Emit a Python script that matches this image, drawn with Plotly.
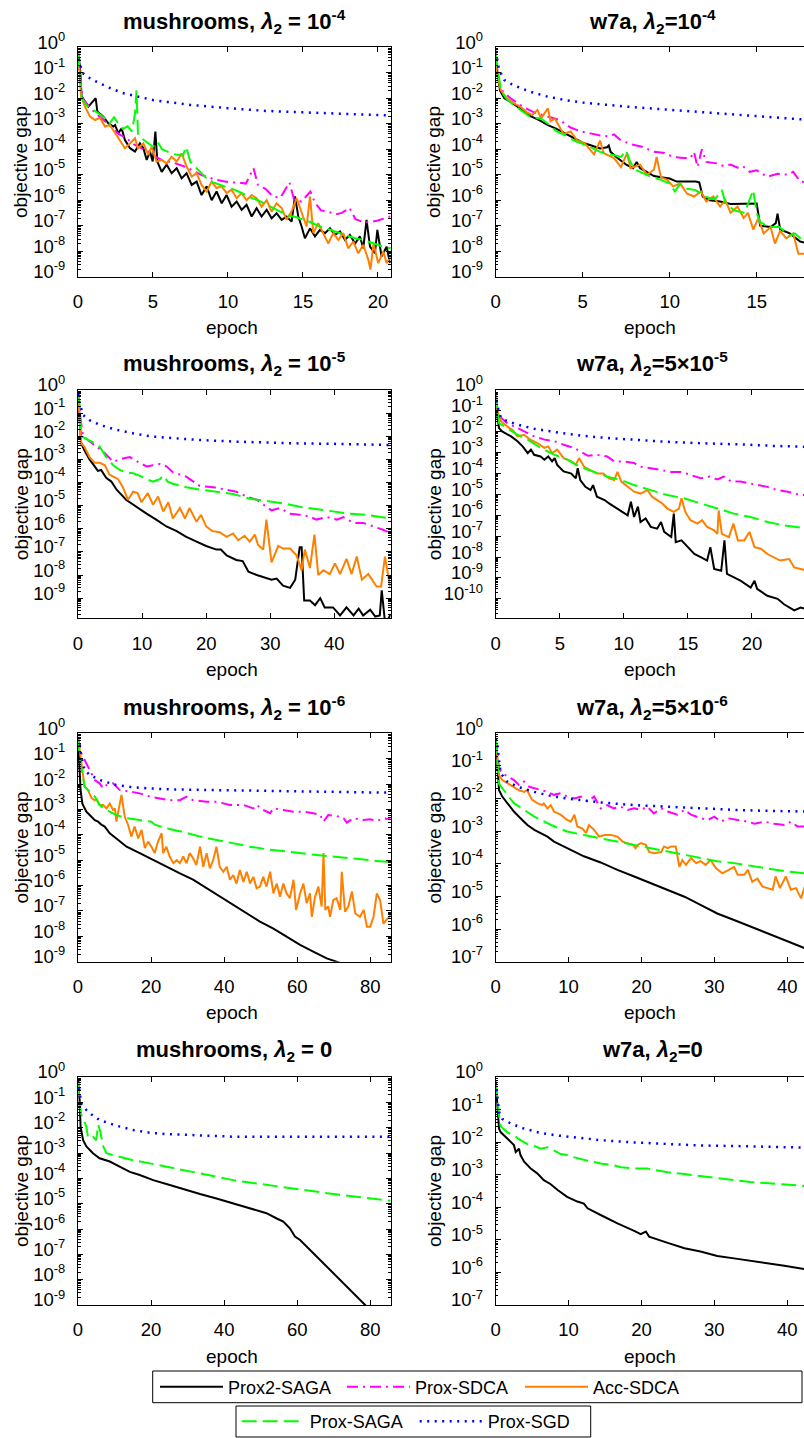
import math
import plotly.graph_objects as go

# ---------------------------------------------------------------- data ----
METHODS = ["Prox2-SAGA", "Prox-SDCA", "Acc-SDCA", "Prox-SAGA", "Prox-SGD"]

PANEL_TITLES = [
    "<b>mushrooms, <i>λ</i><sub>2</sub> = 10<sup>-4</sup></b>",
    "<b>w7a, <i>λ</i><sub>2</sub>=10<sup>-4</sup></b>",
    "<b>mushrooms, <i>λ</i><sub>2</sub> = 10<sup>-5</sup></b>",
    "<b>w7a, <i>λ</i><sub>2</sub>=5×10<sup>-5</sup></b>",
    "<b>mushrooms, <i>λ</i><sub>2</sub> = 10<sup>-6</sup></b>",
    "<b>w7a, <i>λ</i><sub>2</sub>=5×10<sup>-6</sup></b>",
    "<b>mushrooms, <i>λ</i><sub>2</sub> = 0</b>",
    "<b>w7a, <i>λ</i><sub>2</sub>=0</b>",
]
X_TITLE = "epoch"
Y_TITLE = "objective gap"

Y_TICK_VALS = [1e0, 1e-1, 1e-2, 1e-3, 1e-4, 1e-5, 1e-6, 1e-7, 1e-8, 1e-9, 1e-10]
Y_TICK_TEXT = ["10<sup>0</sup>", "10<sup>-1</sup>", "10<sup>-2</sup>", "10<sup>-3</sup>",
               "10<sup>-4</sup>", "10<sup>-5</sup>", "10<sup>-6</sup>", "10<sup>-7</sup>",
               "10<sup>-8</sup>", "10<sup>-9</sup>", "10<sup>-10</sup>"]
N_Y_TICKS = [10, 10, 10, 11, 10, 8, 10, 8]
Y_MIN = [1e-9, 1e-9, 1.35e-10, 1.17e-11, 1e-9, 1e-7, 1e-9, 1e-7]
X_MAX = [20.85, 17.72, 48.8, 24.06, 85.6, 42.3, 85.6, 42.3]
X_TICK_STEP = [5, 5, 10, 5, 20, 10, 20, 10]

# ---- panel 1 : mushrooms, lambda2 = 1e-4
P1_X_PROX2SAGA = [0, 0.13, 0.24, 0.47, 0.69, 0.98, 1.18, 1.29, 1.69, 2.02, 2.36, 2.47, 2.69, 2.91, 3.13, 3.47, 3.8, 4.13, 4.36, 4.58, 4.8, 4.98, 5.16, 5.29, 5.58, 5.91, 6.24, 6.58, 6.91, 7.24, 7.58, 7.91, 8.24, 8.58, 8.91, 9.24, 9.58, 9.91, 10.24, 10.58, 10.91, 11.24, 11.58, 11.91, 12.24, 12.58, 12.91, 13.24, 13.58, 13.91, 14.24, 14.47, 14.69, 14.91, 15.13, 15.47, 15.8, 16.13, 16.47, 16.8, 17.13, 17.47, 17.8, 18.13, 18.47, 18.8, 19.02, 19.24, 19.47, 19.8, 19.96, 20.24, 20.58, 20.8]
P1_Y_PROX2SAGA = [6.3e-1, 1.7e-1, 1.2e-2, 7.4e-3, 4.7e-3, 7.4e-3, 1.0e-2, 3.0e-3, 1.9e-3, 1.05e-3, 7.8e-4, 8.9e-4, 4.3e-4, 6.6e-4, 2.3e-4, 1.1e-4, 8.1e-5, 1.7e-4, 1.1e-4, 3.8e-5, 8.1e-5, 3.3e-5, 4.9e-4, 3.3e-5, 1.3e-5, 2.5e-5, 1.15e-5, 1.8e-5, 7.2e-6, 1.15e-5, 4.0e-6, 5.4e-6, 1.6e-6, 3.5e-6, 1.0e-6, 2.2e-6, 7.6e-7, 1.6e-6, 5.6e-7, 8.9e-7, 4.2e-7, 6.6e-7, 2.3e-7, 4.9e-7, 2.3e-7, 4.2e-7, 1.95e-7, 3.1e-7, 1.7e-7, 2.3e-7, 1.45e-7, 1.4e-6, 2.3e-7, 9.3e-8, 3.2e-8, 7.9e-8, 3.8e-8, 6.9e-8, 5.1e-8, 7.9e-8, 4.4e-8, 6.0e-8, 2.8e-8, 4.4e-8, 2.0e-8, 3.8e-8, 1.3e-8, 1.7e-7, 1.5e-8, 8.3e-9, 6.9e-8, 6.2e-9, 1.5e-8, 3.4e-9]
P1_X_PROXSDCA = [0, 0.1, 0.3, 0.7, 1.2, 1.7, 2.2, 2.7, 3.2, 3.7, 4.2, 4.7, 5.2, 5.7, 6.2, 6.7, 7.2, 7.7, 8.2, 8.7, 9.2, 9.7, 10.2, 10.7, 11.2, 11.7, 12.0, 12.5, 13.0, 13.5, 14.1, 14.4, 14.9, 15.5, 15.8, 16.2, 16.7, 17.2, 17.6, 18.1, 18.5, 19.0, 19.5, 20.0, 20.5, 20.9]
P1_Y_PROXSDCA = [6.3e-1, 1.0e-1, 1.0e-2, 5.0e-3, 2.5e-3, 1.4e-3, 7.9e-4, 4.0e-4, 2.8e-4, 1.6e-4, 1.1e-4, 7.9e-5, 5.0e-5, 3.5e-5, 3.2e-5, 2.5e-5, 2.0e-5, 1.4e-5, 1.0e-5, 7.9e-6, 6.3e-6, 5.6e-6, 5.0e-6, 5.0e-6, 4.5e-6, 1.8e-5, 4.0e-6, 2.8e-6, 1.4e-6, 1.26e-6, 5.0e-6, 1.1e-6, 8.9e-7, 2.2e-6, 7.9e-7, 4.0e-7, 3.5e-7, 2.8e-7, 3.2e-7, 5.0e-7, 1.8e-7, 1.4e-7, 1.4e-7, 1.6e-7, 2.0e-7, 2.4e-7]
P1_X_ACCSDCA = [0, 0.1, 0.2, 0.47, 0.8, 1.13, 1.47, 1.8, 2.13, 2.47, 2.8, 3.13, 3.47, 3.8, 4.0, 4.36, 4.69, 4.91, 5.24, 5.58, 5.91, 6.24, 6.58, 6.91, 7.24, 7.58, 7.91, 8.24, 8.58, 8.91, 9.24, 9.58, 9.91, 10.24, 10.58, 10.91, 11.24, 11.58, 11.91, 12.24, 12.58, 12.91, 13.24, 13.58, 13.91, 14.24, 14.58, 14.91, 15.24, 15.47, 15.69, 16.02, 16.36, 16.69, 17.02, 17.36, 17.69, 18.02, 18.36, 18.69, 19.02, 19.36, 19.5, 19.7, 20.02, 20.36, 20.58, 20.84]
P1_Y_ACCSDCA = [6.3e-1, 1.4e-1, 1.2e-2, 4.7e-3, 1.9e-3, 1.4e-3, 1.7e-3, 7.8e-4, 8.9e-4, 4.3e-4, 2.3e-4, 1.1e-4, 1.7e-4, 2.7e-4, 1.1e-4, 1.7e-4, 6.0e-5, 1.26e-4, 3.3e-5, 3.8e-5, 2.8e-5, 5.1e-5, 3.3e-5, 6.9e-5, 2.1e-5, 8.5e-6, 1.15e-5, 4.0e-6, 2.2e-6, 5.4e-6, 3.0e-6, 3.5e-6, 1.9e-6, 2.6e-6, 1.2e-6, 1.9e-6, 1.0e-6, 1.6e-6, 1.2e-6, 5.6e-7, 1.0e-6, 3.6e-7, 7.6e-7, 4.9e-7, 1.7e-7, 3.6e-7, 1.2e-6, 3.1e-7, 9.3e-8, 1.4e-6, 5.1e-8, 1.26e-7, 5.1e-8, 2.0e-8, 5.1e-8, 2.8e-8, 5.1e-8, 1.3e-8, 2.4e-8, 8.3e-9, 1.8e-8, 4.6e-9, 1.9e-9, 2.0e-8, 3.4e-9, 9.8e-9, 3.4e-9, 6.2e-9]
P1_X_PROXSAGA = [0, 0.1, 0.25, 0.6, 1.0, 1.4, 1.8, 2.1, 2.4, 2.7, 3.0, 3.3, 3.6, 3.8, 3.9, 4.0, 4.3, 4.6, 5.0, 5.3, 5.6, 6.0, 6.5, 7.0, 7.2, 7.5, 8.0, 8.5, 9.0, 9.5, 10.0, 10.5, 11.0, 11.5, 12.0, 12.5, 13.0, 13.5, 14.0, 14.5, 15.0, 15.5, 16.0, 16.5, 17.0, 17.5, 18.0, 18.5, 19.0, 19.5, 20.0, 20.5, 21.0]
P1_Y_PROXSAGA = [6.3e-1, 1.0e-1, 1.0e-2, 5.0e-3, 3.5e-3, 2.5e-3, 1.6e-3, 1.0e-3, 1.8e-3, 1.0e-3, 6.3e-4, 7.9e-4, 5.0e-4, 2.5e-3, 2.0e-2, 4.0e-4, 2.5e-4, 1.8e-4, 1.26e-4, 2.0e-4, 1.0e-4, 7.9e-5, 6.3e-5, 5.6e-5, 1.26e-4, 3.2e-5, 1.6e-5, 7.9e-6, 5.0e-6, 4.0e-6, 3.2e-6, 2.5e-6, 1.8e-6, 1.26e-6, 1.0e-6, 7.1e-7, 5.0e-7, 3.5e-7, 2.5e-7, 2.2e-7, 1.8e-7, 1.4e-7, 1.0e-7, 7.9e-8, 6.3e-8, 5.0e-8, 4.0e-8, 3.2e-8, 2.8e-8, 2.2e-8, 1.8e-8, 1.4e-8, 1.26e-8]
P1_X_PROXSGD = [0, 0.1, 0.3, 0.6, 1.0, 1.5, 2.0, 3.0, 4.0, 5.0, 6.0, 7.5, 10.0, 12.5, 15.0, 17.5, 20.0, 21.0]
P1_Y_PROXSGD = [7.1e-1, 2.5e-1, 1.0e-1, 7.1e-2, 5.2e-2, 3.8e-2, 2.7e-2, 1.6e-2, 1.2e-2, 8.5e-3, 7.1e-3, 5.5e-3, 4.1e-3, 3.2e-3, 2.8e-3, 2.5e-3, 2.1e-3, 2.1e-3]

# ---- panel 2 : w7a, lambda2 = 1e-4
P2_X_PROX2SAGA = [0, 0.1, 0.25, 0.5, 1.0, 1.5, 2.0, 2.5, 3.0, 3.5, 4.0, 4.5, 5.0, 5.5, 6.0, 6.4, 6.5, 6.6, 7.0, 7.5, 7.9, 8.1, 8.3, 8.6, 9.1, 9.5, 10.0, 10.4, 11.0, 11.5, 11.7, 11.9, 12.3, 12.9, 13.5, 14.2, 15.0, 15.2, 15.8, 16.1, 16.2, 16.35, 16.9, 17.5, 18.0]
P2_Y_PROX2SAGA = [6.3e-1, 1.0e-1, 2.0e-2, 1.0e-2, 6.3e-3, 3.5e-3, 2.0e-3, 1.4e-3, 8.9e-4, 6.3e-4, 4.2e-4, 2.8e-4, 1.8e-4, 1.4e-4, 1.07e-4, 1.2e-4, 1.4e-4, 7.9e-5, 4.5e-5, 2.5e-5, 1.8e-5, 3.2e-5, 1.8e-5, 1.4e-5, 8.9e-6, 7.9e-6, 7.1e-6, 5.4e-6, 5.4e-6, 5.4e-6, 5.0e-6, 1.4e-6, 1.0e-6, 8.9e-7, 7.1e-7, 7.2e-7, 7.4e-7, 1.0e-7, 8.9e-8, 1.26e-7, 3.0e-7, 7.1e-8, 5.0e-8, 2.4e-8, 2.0e-8]
P2_X_PROXSDCA = [0, 0.1, 0.3, 0.85, 1.6, 2.2, 2.9, 3.7, 4.3, 4.9, 5.45, 6.0, 6.5, 6.8, 7.2, 7.9, 8.4, 9.1, 9.7, 10.2, 10.8, 11.2, 11.4, 11.6, 11.85, 12.1, 12.7, 13.1, 13.5, 13.9, 14.2, 14.6, 15.0, 15.6, 16.2, 16.8, 17.1, 17.5, 18.0]
P2_Y_PROXSDCA = [6.3e-1, 1.0e-1, 2.2e-2, 1.0e-2, 4.5e-3, 2.8e-3, 2.0e-3, 1.4e-3, 7.1e-4, 5.0e-4, 4.2e-4, 3.5e-4, 3.2e-4, 3.8e-4, 2.2e-4, 1.5e-4, 1.26e-4, 7.9e-5, 7.1e-5, 5.0e-5, 4.5e-5, 4.5e-5, 7.9e-5, 2.0e-5, 1.0e-4, 3.2e-5, 2.8e-5, 2.2e-5, 2.5e-5, 1.9e-5, 2.2e-5, 1.3e-5, 1.5e-5, 8.3e-6, 1.1e-5, 1.0e-5, 1.3e-5, 5.4e-6, 5.0e-6]
P2_X_ACCSDCA = [0, 0.05, 0.3, 0.65, 1.05, 1.45, 1.8, 2.1, 2.4, 2.6, 3.0, 3.15, 3.4, 3.6, 3.9, 4.3, 4.7, 5.1, 5.65, 6.0, 6.2, 6.8, 7.2, 7.55, 7.75, 8.3, 8.7, 9.1, 9.25, 9.5, 9.85, 10.2, 10.6, 11.0, 11.4, 11.8, 12.1, 12.5, 12.9, 13.2, 13.5, 13.9, 14.25, 14.5, 14.8, 15.1, 15.4, 15.8, 16.05, 16.35, 16.7, 17.1, 17.4, 17.8, 18.0]
P2_Y_ACCSDCA = [6.3e-1, 1.0e-1, 2.0e-2, 1.0e-2, 6.3e-3, 4.5e-3, 2.8e-3, 2.2e-3, 3.5e-3, 1.6e-3, 4.0e-3, 1.26e-3, 1.6e-3, 8.9e-4, 4.0e-4, 5.0e-4, 2.2e-4, 1.8e-4, 6.3e-5, 2.2e-4, 7.1e-5, 4.5e-5, 2.0e-5, 7.1e-5, 1.8e-5, 2.5e-5, 1.0e-5, 1.6e-5, 5.0e-5, 7.9e-6, 6.3e-6, 3.5e-6, 4.5e-6, 1.8e-6, 1.4e-6, 2.2e-6, 8.9e-7, 1.4e-6, 5.6e-7, 1.0e-6, 3.2e-7, 5.6e-7, 2.0e-7, 3.2e-7, 7.1e-8, 2.0e-7, 5.0e-8, 8.9e-8, 2.0e-8, 6.3e-8, 3.2e-8, 5.0e-8, 7.9e-9, 7.9e-9, 1.0e-8]
P2_X_PROXSAGA = [0, 0.1, 0.3, 0.6, 1.0, 1.5, 2.0, 2.6, 3.0, 3.5, 4.0, 4.5, 5.0, 5.4, 6.0, 6.8, 7.2, 7.5, 7.7, 8.0, 8.5, 9.0, 9.5, 10.0, 10.3, 10.6, 11.0, 11.5, 12.0, 12.6, 13.0, 13.2, 13.7, 14.3, 14.8, 15.0, 15.2, 15.7, 16.3, 16.9, 17.2, 17.7, 18.0]
P2_Y_PROXSAGA = [6.3e-1, 1.6e-1, 2.0e-2, 1.0e-2, 5.6e-3, 3.2e-3, 1.8e-3, 1.6e-3, 1.0e-3, 5.0e-4, 3.5e-4, 2.2e-4, 1.6e-4, 1.26e-4, 7.9e-5, 5.6e-5, 5.0e-5, 8.9e-5, 3.5e-5, 1.6e-5, 1.1e-5, 7.9e-6, 6.3e-6, 4.5e-6, 2.2e-6, 4.5e-6, 2.8e-6, 2.5e-6, 1.4e-6, 1.1e-6, 2.5e-6, 7.9e-7, 4.0e-7, 3.2e-7, 2.5e-6, 3.2e-7, 1.4e-7, 8.9e-8, 8.9e-8, 4.0e-8, 5.0e-8, 2.4e-8, 2.0e-8]
P2_X_PROXSGD = [0, 0.2, 0.5, 1.0, 2.0, 3.0, 4.0, 5.0, 7.5, 10.0, 12.5, 15.0, 17.5, 18.0]
P2_Y_PROXSGD = [7.1e-1, 1.26e-1, 5.2e-2, 3.3e-2, 1.8e-2, 1.15e-2, 8.5e-3, 6.8e-3, 4.7e-3, 3.5e-3, 2.6e-3, 1.9e-3, 1.5e-3, 1.45e-3]

# ---- panel 3 : mushrooms, lambda2 = 1e-5
P3_X_PROX2SAGA = [0, 0.25, 0.5, 1.0, 1.8, 2.6, 3.1, 3.6, 4.4, 5.2, 6.0, 7.5, 9.1, 10.7, 12.2, 13.8, 15.4, 16.9, 18.5, 20.0, 21.6, 22.3, 23.2, 24.7, 25.7, 26.6, 27.9, 29.4, 30.2, 31.0, 32.0, 33.1, 33.9, 34.6, 34.9, 35.3, 36.2, 37.0, 37.8, 38.5, 39.8, 40.9, 41.9, 43.0, 43.8, 44.5, 45.6, 46.4, 47.1, 47.4, 47.9, 48.4, 48.8]
P3_Y_PROX2SAGA = [7.1e-1, 7.1e-2, 5.0e-3, 2.5e-3, 1.0e-3, 5.0e-4, 3.2e-4, 3.5e-4, 1.6e-4, 1.1e-4, 5.0e-5, 1.8e-5, 8.9e-6, 4.5e-6, 2.5e-6, 1.26e-6, 7.9e-7, 4.5e-7, 2.8e-7, 1.8e-7, 1.26e-7, 1.26e-7, 7.1e-8, 4.5e-8, 4.0e-8, 1.4e-8, 1.0e-8, 7.1e-9, 6.3e-9, 7.1e-9, 3.5e-9, 2.8e-9, 6.3e-9, 1.6e-7, 1.6e-7, 7.9e-10, 7.9e-10, 5.0e-10, 1.0e-9, 4.0e-10, 4.0e-10, 1.8e-10, 4.0e-10, 1.8e-10, 3.5e-10, 1.8e-10, 3.2e-10, 1.6e-10, 1.8e-10, 2.2e-9, 1.0e-10, 1.26e-10, 2.0e-10]
P3_X_PROXSDCA = [0, 0.25, 0.8, 1.55, 2.9, 3.9, 5.5, 7.0, 8.1, 9.6, 10.7, 11.7, 12.8, 13.8, 14.8, 16.9, 19.0, 21.1, 23.2, 24.7, 26.3, 27.9, 29.4, 30.2, 31.5, 33.1, 34.6, 36.0, 37.2, 38.8, 40.4, 41.4, 43.0, 44.5, 46.1, 47.7, 48.8]
P3_Y_PROXSDCA = [7.1e-1, 1.0e-1, 1.0e-2, 7.1e-3, 3.5e-3, 2.2e-3, 7.9e-4, 1.1e-3, 1.26e-3, 7.1e-4, 5.0e-4, 5.6e-4, 6.3e-4, 5.0e-4, 2.8e-4, 1.8e-4, 7.1e-5, 6.3e-5, 5.0e-5, 4.0e-5, 2.5e-5, 1.8e-5, 8.9e-6, 6.3e-6, 7.9e-6, 4.5e-6, 4.0e-6, 3.5e-6, 2.5e-6, 3.2e-6, 2.5e-6, 3.2e-6, 1.8e-6, 1.8e-6, 1.26e-6, 8.9e-7, 6.3e-7]
P3_X_ACCSDCA = [0, 0.15, 0.5, 1.0, 1.8, 2.6, 3.4, 4.2, 4.9, 5.5, 6.25, 7.0, 7.8, 8.6, 9.3, 9.9, 10.9, 11.7, 12.5, 13.3, 14.1, 14.8, 15.9, 16.7, 17.4, 18.5, 19.2, 20.0, 21.0, 22.1, 23.2, 24.2, 25.0, 26.0, 26.8, 27.6, 28.1, 28.9, 29.4, 30.2, 31.25, 32.0, 33.1, 34.1, 34.9, 35.4, 36.2, 36.9, 37.5, 38.3, 39.3, 40.1, 40.9, 41.9, 42.7, 43.5, 44.3, 45.3, 46.6, 47.3, 47.9, 48.7]
P3_Y_ACCSDCA = [7.1e-1, 1.26e-1, 5.0e-3, 3.5e-3, 1.26e-3, 7.1e-4, 7.1e-4, 5.6e-4, 2.2e-4, 1.8e-4, 1.4e-4, 6.3e-5, 1.8e-5, 4.0e-5, 3.5e-5, 1.4e-5, 3.5e-5, 1.1e-5, 2.5e-5, 5.6e-6, 1.4e-5, 2.8e-6, 7.9e-6, 2.8e-6, 7.9e-6, 2.0e-6, 4.0e-6, 1.26e-6, 7.9e-7, 7.1e-7, 4.5e-7, 6.3e-7, 3.2e-7, 5.0e-7, 2.8e-7, 5.6e-7, 2.0e-7, 1.26e-7, 2.5e-6, 3.5e-8, 1.8e-7, 1.4e-7, 1.4e-7, 7.1e-8, 1.6e-8, 1.26e-7, 2.0e-8, 5.6e-7, 1.0e-8, 1.6e-8, 1.1e-8, 3.2e-8, 1.1e-8, 5.0e-8, 1.1e-8, 6.3e-8, 6.3e-9, 1.1e-8, 3.2e-9, 3.2e-9, 6.3e-8, 3.2e-9]
P3_X_PROXSAGA = [0, 0.25, 0.5, 1.3, 2.3, 3.4, 4.4, 5.5, 6.5, 7.5, 8.6, 9.6, 10.7, 11.7, 12.8, 13.3, 14.0, 14.8, 16.9, 19.0, 21.6, 24.2, 26.8, 29.4, 32.0, 34.6, 37.2, 39.8, 42.4, 45.0, 48.8]
P3_Y_PROXSAGA = [7.1e-1, 2.5e-1, 1.0e-2, 7.9e-3, 5.6e-3, 3.5e-3, 1.26e-3, 5.6e-4, 3.5e-4, 2.8e-4, 2.5e-4, 2.0e-4, 1.4e-4, 1.1e-4, 1.4e-4, 2.0e-4, 1.1e-4, 8.9e-5, 6.3e-5, 5.0e-5, 4.0e-5, 3.2e-5, 2.0e-5, 1.6e-5, 1.26e-5, 8.9e-6, 7.1e-6, 5.6e-6, 4.5e-6, 4.0e-6, 2.8e-6]
P3_X_PROXSGD = [0, 0.26, 0.8, 1.8, 3.4, 6.0, 8.6, 11.2, 13.8, 19.0, 24.2, 29.4, 34.6, 39.8, 48.8]
P3_Y_PROXSGD = [7.1e-1, 2.6e-1, 8.3e-2, 5.0e-2, 3.1e-2, 1.9e-2, 1.35e-2, 1.0e-2, 8.7e-3, 6.9e-3, 5.9e-3, 5.2e-3, 4.9e-3, 4.7e-3, 4.2e-3]

# ---- panel 4 : w7a, lambda2 = 5e-5
P4_X_PROX2SAGA = [0, 0.13, 0.26, 0.5, 1.2, 1.7, 2.1, 2.5, 2.75, 3.0, 3.5, 3.8, 4.1, 4.4, 4.6, 4.8, 5.3, 5.9, 6.25, 6.4, 6.6, 7.0, 7.4, 7.6, 7.9, 8.5, 8.85, 9.25, 9.8, 10.3, 10.55, 10.8, 11.1, 11.3, 11.7, 12.1, 12.6, 12.9, 13.15, 13.7, 13.9, 14.05, 14.5, 15.0, 15.5, 16.0, 16.5, 16.75, 17.05, 17.6, 17.85, 18.05, 18.6, 19.1, 19.9, 20.2, 20.4, 21.2, 22.0, 22.5, 23.3, 23.8, 24.3]
P4_Y_PROX2SAGA = [7.1e-1, 5.6e-2, 1.5e-2, 1.05e-2, 6.0e-3, 3.5e-3, 2.0e-3, 9.5e-4, 1.4e-3, 7.9e-4, 6.6e-4, 4.6e-4, 6.6e-4, 3.8e-4, 5.5e-4, 2.6e-4, 1.26e-4, 1.0e-4, 5.9e-5, 1.8e-4, 4.9e-5, 2.3e-5, 1.6e-5, 2.8e-5, 7.8e-6, 5.4e-6, 3.7e-6, 2.6e-6, 1.7e-6, 1.0e-6, 4.5e-6, 8.3e-7, 2.6e-6, 4.8e-7, 7.1e-7, 2.8e-7, 2.3e-7, 4.8e-7, 1.6e-7, 9.1e-8, 1.2e-6, 5.2e-8, 6.3e-8, 3.0e-8, 1.4e-8, 1.0e-8, 6.8e-9, 3.0e-8, 2.7e-9, 2.2e-9, 6.3e-8, 1.55e-9, 1.07e-9, 7.4e-10, 3.5e-10, 7.4e-10, 3.0e-10, 1.4e-10, 1.0e-10, 5.5e-11, 2.8e-11, 3.8e-11, 3.2e-11]
P4_X_PROXSDCA = [0, 0.13, 0.4, 0.9, 1.7, 2.5, 3.0, 3.8, 4.6, 5.3, 6.1, 6.6, 7.2, 7.9, 8.7, 9.25, 10.0, 10.8, 11.3, 12.1, 12.9, 13.7, 14.5, 15.2, 16.0, 16.7, 17.3, 17.8, 18.4, 19.1, 19.7, 20.4, 21.2, 22.0, 22.8, 23.3, 23.8, 24.3]
P4_Y_PROXSDCA = [7.1e-1, 1.2e-1, 4.7e-2, 2.6e-2, 1.5e-2, 8.7e-3, 6.0e-3, 4.2e-3, 3.5e-3, 2.4e-3, 1.7e-3, 1.15e-3, 7.1e-4, 7.9e-4, 6.6e-4, 3.8e-4, 3.8e-4, 3.2e-4, 2.1e-4, 1.8e-4, 1.5e-4, 1.2e-4, 1.2e-4, 8.5e-5, 5.9e-5, 7.1e-5, 5.2e-5, 7.1e-5, 4.1e-5, 4.1e-5, 3.4e-5, 2.8e-5, 2.3e-5, 1.6e-5, 1.35e-5, 1.1e-5, 9.3e-6, 9.3e-6]
P4_X_ACCSDCA = [0, 0.13, 0.4, 0.9, 1.4, 1.7, 2.2, 2.7, 3.25, 3.8, 4.1, 4.4, 4.8, 5.3, 5.9, 6.25, 6.5, 6.9, 7.4, 7.9, 8.4, 8.85, 9.25, 9.5, 9.8, 10.3, 10.8, 11.3, 11.85, 12.2, 12.6, 13.0, 13.4, 13.9, 14.3, 14.5, 14.8, 15.2, 15.75, 16.1, 16.5, 17.05, 17.3, 17.4, 17.65, 18.2, 18.55, 18.9, 19.4, 19.8, 20.2, 20.7, 21.2, 21.7, 22.2, 22.9, 23.3, 23.8, 24.3]
P4_Y_ACCSDCA = [7.1e-1, 1.0e-1, 3.2e-2, 1.8e-2, 1.05e-2, 6.0e-3, 7.2e-3, 4.2e-3, 2.9e-3, 1.7e-3, 2.0e-3, 9.5e-4, 1.4e-3, 5.5e-4, 3.8e-4, 2.6e-4, 5.5e-4, 2.1e-4, 1.5e-4, 1.0e-4, 1.0e-4, 5.9e-5, 4.9e-5, 1.2e-4, 4.1e-5, 2.3e-5, 1.35e-5, 1.1e-5, 1.6e-5, 7.8e-6, 5.4e-6, 3.7e-6, 2.1e-6, 1.45e-6, 2.1e-6, 6.5e-6, 1.45e-6, 5.8e-7, 4.0e-7, 5.8e-7, 2.8e-7, 1.9e-7, 1.3e-7, 1.7e-6, 1.3e-7, 9.1e-8, 4.0e-7, 6.3e-8, 6.3e-8, 1.6e-7, 3.0e-8, 2.5e-8, 1.4e-8, 1.0e-8, 6.8e-9, 8.1e-9, 3.2e-9, 2.7e-9, 2.2e-9]
P4_X_PROXSAGA = [0, 0.13, 0.26, 0.9, 1.7, 2.5, 3.5, 4.6, 5.6, 6.6, 7.7, 8.7, 9.8, 10.8, 12.1, 13.4, 14.7, 16.0, 17.3, 18.6, 19.9, 21.2, 22.5, 24.3]
P4_Y_PROXSAGA = [7.1e-1, 1.0e-1, 2.6e-2, 1.5e-2, 7.2e-3, 4.2e-3, 1.7e-3, 7.9e-4, 4.6e-4, 2.1e-4, 1.2e-4, 7.1e-5, 4.9e-5, 2.8e-5, 1.6e-5, 9.3e-6, 6.5e-6, 3.7e-6, 2.1e-6, 1.2e-6, 8.3e-7, 4.8e-7, 3.3e-7, 2.3e-7]
P4_X_PROXSGD = [0, 0.13, 0.4, 0.9, 1.95, 3.0, 5.1, 7.2, 9.2, 11.3, 13.4, 15.5, 17.6, 19.7, 21.7, 24.3]
P4_Y_PROXSGD = [7.1e-1, 1.7e-1, 4.7e-2, 3.2e-2, 2.0e-2, 1.4e-2, 8.7e-3, 6.0e-3, 4.8e-3, 3.9e-3, 3.3e-3, 2.9e-3, 2.7e-3, 2.4e-3, 2.1e-3, 1.9e-3]

# ---- panel 5 : mushrooms, lambda2 = 1e-6
P5_X_PROX2SAGA = [0, 0.45, 0.7, 1.2, 2.3, 3.2, 4.6, 5.5, 6.4, 7.3, 8.7, 10.5, 13.3, 16.9, 20.6, 24.2, 27.9, 31.5, 35.2, 38.8, 42.5, 46.2, 49.8, 53.5, 57.1, 60.8, 64.4, 68.1, 71.8, 75.0]
P5_Y_PROX2SAGA = [7.1e-1, 4.9e-2, 5.9e-3, 1.7e-3, 8.1e-4, 6.0e-4, 3.8e-4, 3.3e-4, 2.5e-4, 2.1e-4, 1.15e-4, 7.2e-5, 3.4e-5, 1.9e-5, 1.0e-5, 5.5e-6, 3.0e-6, 1.7e-6, 7.8e-7, 3.6e-7, 1.7e-7, 7.9e-8, 3.8e-8, 2.0e-8, 9.5e-9, 4.6e-9, 2.5e-9, 1.35e-9, 8.9e-10, 5.0e-10]
P5_X_PROXSDCA = [0, 0.45, 0.9, 1.8, 3.2, 4.6, 5.9, 6.9, 7.8, 9.6, 11.4, 14.2, 16.9, 19.7, 22.4, 25.1, 27.9, 29.7, 31.5, 35.2, 38.0, 41.6, 45.3, 48.0, 48.9, 50.7, 52.6, 53.5, 56.2, 59.0, 61.7, 64.4, 66.3, 67.2, 68.5, 70.8, 72.7, 73.6, 75.4, 78.2, 80.0, 81.8, 83.6, 85.6]
P5_Y_PROXSDCA = [7.1e-1, 3.0e-1, 1.6e-1, 8.9e-2, 3.5e-2, 1.45e-2, 1.07e-2, 6.8e-3, 9.1e-3, 1.07e-2, 5.9e-3, 5.0e-3, 4.3e-3, 3.2e-3, 2.8e-3, 2.3e-3, 2.3e-3, 3.2e-3, 2.3e-3, 2.0e-3, 2.0e-3, 1.5e-3, 1.5e-3, 1.1e-3, 1.5e-3, 9.5e-4, 7.1e-4, 1.1e-3, 9.5e-4, 8.1e-4, 8.1e-4, 7.1e-4, 6.0e-4, 3.3e-4, 6.0e-4, 5.5e-4, 4.5e-4, 3.0e-4, 4.5e-4, 3.8e-4, 4.1e-4, 3.5e-4, 4.5e-4, 4.1e-4]
P5_X_ACCSDCA = [0, 0.45, 0.9, 1.8, 2.7, 3.7, 4.6, 5.0, 5.9, 6.9, 7.8, 8.7, 9.6, 10.1, 10.5, 11.0, 11.9, 12.8, 13.7, 14.6, 15.5, 16.5, 17.4, 18.3, 19.2, 20.1, 21.0, 21.9, 22.9, 23.3, 24.2, 25.1, 26.1, 27.0, 27.9, 28.8, 29.7, 30.6, 31.5, 32.4, 33.4, 34.3, 35.2, 36.1, 37.0, 37.9, 38.8, 39.8, 40.7, 41.6, 42.5, 43.4, 44.3, 45.3, 46.2, 47.1, 48.0, 48.9, 49.8, 50.7, 51.6, 52.6, 53.5, 54.4, 55.3, 56.2, 57.1, 58.0, 59.0, 59.7, 60.8, 61.7, 62.6, 63.5, 64.0, 64.9, 65.8, 66.7, 67.2, 67.7, 68.5, 69.0, 69.9, 70.8, 71.8, 72.2, 73.1, 74.0, 75.0, 75.9, 77.2, 78.2, 79.1, 80.0, 80.9, 81.8, 82.7, 83.6, 84.5, 85.6]
P5_Y_ACCSDCA = [7.1e-1, 2.2e-1, 4.9e-2, 7.9e-3, 5.9e-3, 2.8e-3, 2.3e-3, 2.8e-3, 1.5e-3, 1.5e-3, 1.1e-3, 1.7e-3, 9.5e-4, 1.1e-3, 3.3e-4, 8.1e-4, 3.7e-3, 5.1e-4, 2.5e-4, 8.5e-5, 2.1e-4, 7.2e-5, 1.55e-4, 3.0e-5, 5.4e-5, 3.4e-5, 1.9e-5, 5.4e-5, 1.15e-4, 1.9e-5, 3.4e-5, 1.4e-5, 7.6e-6, 1.0e-5, 7.6e-6, 1.4e-5, 7.6e-6, 1.9e-5, 1.2e-5, 6.5e-6, 3.4e-5, 5.5e-6, 1.9e-5, 4.8e-6, 1.0e-5, 3.4e-5, 5.5e-6, 3.5e-6, 5.5e-6, 1.7e-6, 2.6e-6, 1.2e-6, 4.1e-6, 1.4e-6, 3.5e-6, 1.2e-6, 2.2e-6, 7.8e-7, 9.1e-7, 2.2e-6, 9.1e-7, 3.5e-6, 4.9e-7, 1.2e-6, 3.6e-7, 1.2e-6, 4.9e-7, 3.2e-7, 1.7e-6, 1.1e-7, 4.9e-7, 1.2e-6, 2.0e-7, 4.9e-7, 5.9e-8, 3.6e-7, 9.1e-7, 1.5e-7, 1.9e-5, 1.1e-7, 1.5e-7, 5.9e-8, 2.7e-7, 3.2e-7, 1.1e-7, 3.5e-6, 9.3e-8, 1.5e-7, 5.8e-7, 7.9e-8, 5.9e-8, 1.1e-7, 2.4e-8, 2.4e-8, 5.9e-8, 4.9e-7, 2.7e-7, 3.2e-8, 4.4e-8, 6.9e-8]
P5_X_PROXSAGA = [0, 0.45, 0.9, 1.8, 3.2, 4.6, 5.9, 7.8, 10.5, 13.3, 16.9, 20.1, 21.0, 24.2, 28.8, 33.4, 37.9, 42.5, 47.1, 51.6, 56.2, 60.8, 65.4, 69.9, 74.5, 79.1, 85.6]
P5_Y_PROXSAGA = [7.1e-1, 1.2e-1, 4.9e-2, 7.9e-3, 5.0e-3, 3.2e-3, 1.5e-3, 9.5e-4, 6.0e-4, 4.5e-4, 3.8e-4, 3.3e-4, 2.5e-4, 1.8e-4, 1.3e-4, 8.5e-5, 6.3e-5, 4.6e-5, 3.4e-5, 2.7e-5, 2.2e-5, 1.9e-5, 1.6e-5, 1.4e-5, 1.2e-5, 1.0e-5, 8.3e-6]
P5_X_PROXSGD = [0, 0.45, 0.9, 1.8, 3.2, 5.9, 10.5, 15.1, 24.2, 33.4, 42.5, 51.6, 60.8, 69.9, 79.1, 85.6]
P5_Y_PROXSGD = [7.1e-1, 4.0e-1, 1.2e-1, 3.5e-2, 2.3e-2, 1.45e-2, 9.1e-3, 7.4e-3, 6.2e-3, 5.9e-3, 5.5e-3, 5.1e-3, 5.0e-3, 4.9e-3, 4.7e-3, 4.6e-3]

# ---- panel 6 : w7a, lambda2 = 5e-6
P6_X_PROX2SAGA = [0, 0.23, 0.46, 0.9, 1.6, 2.5, 3.4, 4.35, 5.3, 6.2, 7.1, 8.0, 8.9, 9.8, 12.1, 14.4, 16.7, 19.0, 21.3, 23.6, 25.9, 28.1, 30.4, 32.7, 35.0, 37.3, 39.6, 42.4]
P6_Y_PROX2SAGA = [7.1e-1, 7.6e-2, 1.8e-2, 1.15e-2, 7.2e-3, 4.0e-3, 2.5e-3, 1.55e-3, 1.1e-3, 8.7e-4, 6.8e-4, 4.8e-4, 3.8e-4, 3.0e-4, 1.7e-4, 1.1e-4, 6.5e-5, 4.1e-5, 2.5e-5, 1.6e-5, 9.8e-6, 5.5e-6, 3.0e-6, 1.9e-6, 1.2e-6, 7.4e-7, 4.7e-7, 2.6e-7]
P6_X_PROXSDCA = [0, 0.23, 0.46, 0.9, 1.6, 2.5, 3.2, 3.9, 4.6, 5.3, 6.2, 7.1, 8.0, 8.9, 9.8, 10.8, 11.7, 12.6, 13.5, 14.4, 15.3, 16.2, 17.2, 18.1, 19.0, 19.9, 20.8, 21.7, 22.7, 23.6, 24.9, 25.9, 26.8, 28.1, 29.1, 30.0, 30.9, 31.8, 33.2, 34.6, 35.5, 36.9, 38.2, 39.6, 40.5, 41.4, 42.4]
P6_Y_PROXSDCA = [7.1e-1, 1.9e-1, 8.5e-2, 5.9e-2, 4.7e-2, 3.7e-2, 2.6e-2, 3.3e-2, 2.3e-2, 2.1e-2, 1.8e-2, 1.6e-2, 1.3e-2, 1.45e-2, 1.15e-2, 1.0e-2, 1.15e-2, 8.1e-3, 1.15e-2, 5.0e-3, 6.3e-3, 5.0e-3, 5.6e-3, 4.5e-3, 5.0e-3, 4.5e-3, 5.6e-3, 3.5e-3, 5.0e-3, 4.0e-3, 3.2e-3, 4.5e-3, 3.2e-3, 2.5e-3, 2.2e-3, 2.8e-3, 1.95e-3, 2.5e-3, 2.2e-3, 1.95e-3, 1.7e-3, 1.95e-3, 1.7e-3, 1.55e-3, 1.95e-3, 1.4e-3, 1.4e-3]
P6_X_ACCSDCA = [0, 0.23, 0.46, 0.9, 1.6, 2.5, 3.2, 3.9, 4.3, 5.0, 5.7, 6.4, 6.6, 7.1, 7.55, 8.0, 8.9, 9.8, 10.3, 10.8, 11.2, 11.9, 12.4, 12.8, 13.5, 14.2, 14.9, 15.8, 16.7, 17.4, 18.1, 18.8, 19.2, 19.5, 19.9, 20.6, 21.05, 21.7, 22.7, 23.1, 23.6, 24.1, 24.7, 25.2, 25.6, 26.1, 26.8, 27.5, 28.1, 28.8, 29.5, 30.2, 31.1, 32.0, 32.7, 33.2, 34.1, 34.6, 35.2, 35.9, 36.6, 37.3, 38.0, 38.4, 39.0, 39.8, 40.5, 41.2, 41.9, 42.4]
P6_Y_ACCSDCA = [7.1e-1, 1.35e-1, 5.2e-2, 3.7e-2, 3.0e-2, 2.3e-2, 1.8e-2, 1.6e-2, 1.8e-2, 9.1e-3, 7.2e-3, 6.3e-3, 7.1e-3, 5.0e-3, 6.3e-3, 4.0e-3, 3.2e-3, 2.2e-3, 1.95e-3, 3.2e-3, 1.4e-3, 1.2e-3, 8.7e-4, 1.55e-3, 1.1e-3, 6.8e-4, 7.6e-4, 7.6e-4, 6.8e-4, 4.8e-4, 4.3e-4, 3.8e-4, 3.0e-4, 3.8e-4, 4.3e-4, 3.8e-4, 2.3e-4, 2.1e-4, 2.3e-4, 3.4e-4, 3.0e-4, 3.4e-4, 3.4e-4, 8.1e-5, 1.3e-4, 9.3e-5, 1.5e-4, 1.05e-4, 1.2e-4, 9.3e-5, 1.3e-4, 7.4e-5, 5.1e-5, 6.5e-5, 8.1e-5, 4.6e-5, 4.6e-5, 6.5e-5, 2.8e-5, 3.5e-5, 2.0e-5, 1.8e-5, 1.6e-5, 4.1e-5, 1.8e-5, 4.1e-5, 1.6e-5, 1.8e-5, 8.7e-6, 2.0e-5]
P6_X_PROXSAGA = [0, 0.23, 0.46, 1.6, 2.5, 3.9, 5.3, 7.6, 9.8, 12.1, 14.4, 16.7, 19.0, 21.3, 23.6, 25.9, 28.1, 30.4, 32.7, 35.0, 37.3, 39.6, 42.4]
P6_Y_PROXSAGA = [7.1e-1, 9.5e-2, 2.8e-2, 1.3e-2, 7.2e-3, 4.5e-3, 2.8e-3, 1.55e-3, 9.8e-4, 7.6e-4, 6.0e-4, 4.8e-4, 3.8e-4, 3.0e-4, 2.3e-4, 1.9e-4, 1.5e-4, 1.2e-4, 1.05e-4, 8.5e-5, 7.2e-5, 6.0e-5, 5.1e-5]
P6_X_PROXSGD = [0, 0.23, 0.46, 0.7, 1.6, 3.0, 5.3, 7.6, 9.8, 12.1, 14.4, 19.0, 23.6, 28.1, 32.7, 37.3, 42.4]
P6_Y_PROXSGD = [7.1e-1, 4.9e-1, 1.5e-1, 5.9e-2, 3.3e-2, 2.3e-2, 1.6e-2, 1.2e-2, 1.0e-2, 8.7e-3, 7.6e-3, 6.3e-3, 5.6e-3, 5.0e-3, 4.5e-3, 4.2e-3, 4.0e-3]

# ---- panel 7 : mushrooms, lambda2 = 0
P7_X_PROX2SAGA = [0, 0.45, 0.7, 1.4, 2.3, 4.1, 5.9, 8.7, 11.4, 14.2, 16.9, 20.6, 24.2, 28.8, 33.4, 37.9, 42.5, 47.1, 51.6, 54.4, 56.2, 58.0, 59.4, 60.8, 65.4, 69.9, 74.5, 78.6, 80.0]
P7_Y_PROX2SAGA = [7.1e-1, 1.2e-1, 1.1e-2, 3.2e-3, 1.8e-3, 9.8e-4, 6.2e-4, 4.6e-4, 2.9e-4, 1.8e-4, 1.35e-4, 8.5e-5, 6.0e-5, 3.7e-5, 2.4e-5, 1.6e-5, 1.0e-5, 6.6e-6, 4.2e-6, 2.6e-6, 1.95e-6, 1.07e-6, 5.0e-7, 3.7e-7, 8.1e-8, 1.8e-8, 3.9e-9, 1.0e-9, 6.3e-10]
P7_X_PROXSAGA = [0, 0.45, 0.9, 1.8, 2.3, 2.7, 3.2, 4.1, 5.0, 5.5, 6.0, 6.9, 7.8, 9.6, 11.4, 15.1, 19.7, 24.2, 28.8, 33.4, 37.9, 42.5, 47.1, 51.6, 56.2, 60.8, 65.4, 69.9, 74.5, 79.1, 85.6]
P7_Y_PROXSAGA = [7.1e-1, 9.1e-2, 3.2e-2, 1.5e-2, 1.1e-2, 4.4e-3, 3.8e-3, 4.4e-3, 3.2e-3, 1.3e-2, 8.1e-3, 1.8e-3, 9.8e-4, 8.3e-4, 7.2e-4, 5.2e-4, 3.9e-4, 2.9e-4, 2.1e-4, 1.6e-4, 1.2e-4, 8.5e-5, 6.8e-5, 5.5e-5, 4.4e-5, 3.5e-5, 3.0e-5, 2.4e-5, 2.0e-5, 1.7e-5, 1.3e-5]
P7_X_PROXSGD = [0, 0.45, 0.9, 1.8, 3.2, 5.9, 10.5, 15.1, 19.7, 24.2, 33.4, 42.5, 60.8, 85.6]
P7_Y_PROXSGD = [7.1e-1, 2.3e-1, 9.1e-2, 5.8e-2, 3.7e-2, 2.0e-2, 1.2e-2, 8.1e-3, 6.3e-3, 5.6e-3, 4.8e-3, 4.4e-3, 4.4e-3, 4.4e-3]

# ---- panel 8 : w7a, lambda2 = 0
P8_X_PROX2SAGA = [0, 0.23, 0.46, 0.7, 1.4, 2.1, 2.5, 2.75, 3.2, 3.4, 3.9, 4.8, 5.7, 6.6, 7.55, 8.5, 9.8, 11.2, 12.1, 12.6, 14.4, 16.7, 19.0, 19.9, 20.6, 21.05, 23.6, 25.9, 28.1, 30.4, 32.7, 35.0, 37.3, 39.6, 42.4]
P8_Y_PROX2SAGA = [7.1e-1, 1.2e-1, 2.6e-2, 2.0e-2, 1.45e-2, 1.0e-2, 8.1e-3, 5.0e-3, 6.3e-3, 4.0e-3, 2.5e-3, 1.55e-3, 1.1e-3, 6.8e-4, 5.1e-4, 3.4e-4, 2.1e-4, 1.5e-4, 1.3e-4, 9.3e-5, 5.8e-5, 3.2e-5, 1.9e-5, 1.5e-5, 1.8e-5, 1.26e-5, 8.1e-6, 5.5e-6, 4.4e-6, 3.2e-6, 2.7e-6, 2.3e-6, 1.9e-6, 1.6e-6, 1.26e-6]
P8_X_PROXSAGA = [0, 0.23, 0.46, 0.7, 1.6, 2.5, 3.4, 4.35, 5.3, 6.2, 7.1, 8.0, 8.9, 9.8, 10.8, 12.6, 14.4, 16.2, 17.2, 19.0, 20.8, 21.7, 23.6, 25.9, 28.1, 30.4, 32.7, 35.0, 37.3, 39.6, 42.4]
P8_Y_PROXSAGA = [7.1e-1, 1.9e-1, 6.8e-2, 3.0e-2, 2.0e-2, 1.6e-2, 1.15e-2, 8.7e-3, 7.6e-3, 6.3e-3, 6.9e-3, 5.6e-3, 4.3e-3, 4.0e-3, 3.4e-3, 2.7e-3, 2.2e-3, 1.95e-3, 1.7e-3, 1.55e-3, 1.55e-3, 1.4e-3, 1.2e-3, 1.05e-3, 9.1e-4, 7.6e-4, 6.8e-4, 6.0e-4, 5.4e-4, 5.1e-4, 4.5e-4]
P8_X_PROXSGD = [0, 0.23, 0.46, 0.9, 2.1, 3.9, 6.2, 8.5, 10.8, 14.4, 19.0, 23.6, 28.1, 32.7, 37.3, 42.4]
P8_Y_PROXSGD = [7.1e-1, 2.5e-1, 8.5e-2, 5.2e-2, 3.7e-2, 2.6e-2, 1.9e-2, 1.6e-2, 1.4e-2, 1.15e-2, 9.8e-3, 8.7e-3, 7.9e-3, 7.6e-3, 7.1e-3, 6.8e-3]

PANEL_SERIES = [
    {"Prox2-SAGA": (P1_X_PROX2SAGA, P1_Y_PROX2SAGA), "Prox-SDCA": (P1_X_PROXSDCA, P1_Y_PROXSDCA),
     "Acc-SDCA": (P1_X_ACCSDCA, P1_Y_ACCSDCA), "Prox-SAGA": (P1_X_PROXSAGA, P1_Y_PROXSAGA),
     "Prox-SGD": (P1_X_PROXSGD, P1_Y_PROXSGD)},
    {"Prox2-SAGA": (P2_X_PROX2SAGA, P2_Y_PROX2SAGA), "Prox-SDCA": (P2_X_PROXSDCA, P2_Y_PROXSDCA),
     "Acc-SDCA": (P2_X_ACCSDCA, P2_Y_ACCSDCA), "Prox-SAGA": (P2_X_PROXSAGA, P2_Y_PROXSAGA),
     "Prox-SGD": (P2_X_PROXSGD, P2_Y_PROXSGD)},
    {"Prox2-SAGA": (P3_X_PROX2SAGA, P3_Y_PROX2SAGA), "Prox-SDCA": (P3_X_PROXSDCA, P3_Y_PROXSDCA),
     "Acc-SDCA": (P3_X_ACCSDCA, P3_Y_ACCSDCA), "Prox-SAGA": (P3_X_PROXSAGA, P3_Y_PROXSAGA),
     "Prox-SGD": (P3_X_PROXSGD, P3_Y_PROXSGD)},
    {"Prox2-SAGA": (P4_X_PROX2SAGA, P4_Y_PROX2SAGA), "Prox-SDCA": (P4_X_PROXSDCA, P4_Y_PROXSDCA),
     "Acc-SDCA": (P4_X_ACCSDCA, P4_Y_ACCSDCA), "Prox-SAGA": (P4_X_PROXSAGA, P4_Y_PROXSAGA),
     "Prox-SGD": (P4_X_PROXSGD, P4_Y_PROXSGD)},
    {"Prox2-SAGA": (P5_X_PROX2SAGA, P5_Y_PROX2SAGA), "Prox-SDCA": (P5_X_PROXSDCA, P5_Y_PROXSDCA),
     "Acc-SDCA": (P5_X_ACCSDCA, P5_Y_ACCSDCA), "Prox-SAGA": (P5_X_PROXSAGA, P5_Y_PROXSAGA),
     "Prox-SGD": (P5_X_PROXSGD, P5_Y_PROXSGD)},
    {"Prox2-SAGA": (P6_X_PROX2SAGA, P6_Y_PROX2SAGA), "Prox-SDCA": (P6_X_PROXSDCA, P6_Y_PROXSDCA),
     "Acc-SDCA": (P6_X_ACCSDCA, P6_Y_ACCSDCA), "Prox-SAGA": (P6_X_PROXSAGA, P6_Y_PROXSAGA),
     "Prox-SGD": (P6_X_PROXSGD, P6_Y_PROXSGD)},
    {"Prox2-SAGA": (P7_X_PROX2SAGA, P7_Y_PROX2SAGA), "Prox-SAGA": (P7_X_PROXSAGA, P7_Y_PROXSAGA),
     "Prox-SGD": (P7_X_PROXSGD, P7_Y_PROXSGD)},
    {"Prox2-SAGA": (P8_X_PROX2SAGA, P8_Y_PROX2SAGA), "Prox-SAGA": (P8_X_PROXSAGA, P8_Y_PROXSAGA),
     "Prox-SGD": (P8_X_PROXSGD, P8_Y_PROXSGD)},
]

# --------------------------------------------------------------- style ----
W, H = 804, 1438
FONT = "Liberation Sans, Arial, Helvetica, sans-serif"
STYLE = {
    "Prox2-SAGA": dict(color="#000000", dash="solid", width=2.0, legend="legend", lw=109),
    "Prox-SDCA": dict(color="#FF00FF", dash="11px,5px,2px,5px", width=2.0, legend="legend", lw=100),
    "Acc-SDCA": dict(color="#FF8000", dash="solid", width=2.0, legend="legend", lw=100),
    "Prox-SAGA": dict(color="#00FF00", dash="15px,6px", width=2.0, legend="legend2", lw=100),
    "Prox-SGD": dict(color="#0000FF", dash="2px,5.5px", width=2.5, legend="legend2", lw=100),
}
COL_X = [(78.0, 390.7), (495.7, 804.0)]
COL_FULL_CENTER = [234.35, 652.2]
ROW_Y = [(47.3, 276.7), (390.0, 618.3), (733.3, 961.7), (1077.0, 1305.0)]
YTITLE_X = [21.0, 434.0]
TICK_FONT_SIZE = 18.5


def fx(p):
    return p / W


def fy(p):
    return 1 - p / H


fig = go.Figure()
annotations = []
layout_axes = {}

for i in range(8):
    row, col = divmod(i, 2)
    sx = "" if i == 0 else str(i + 1)
    x0, x1 = COL_X[col]
    top, bot = ROW_Y[row]

    for name in METHODS:
        if name not in PANEL_SERIES[i]:
            continue
        xs, ys = PANEL_SERIES[i][name]
        st = STYLE[name]
        fig.add_trace(go.Scatter(
            x=xs, y=ys, mode="lines", name=name,
            line=dict(color=st["color"], dash=st["dash"], width=st["width"]),
            xaxis="x" + sx, yaxis="y" + sx,
            showlegend=(i == 0), legend=st["legend"], legendwidth=st["lw"],
        ))

    nt = N_Y_TICKS[i]
    ymin = Y_MIN[i]
    minor_vals = []
    for k in range(0, 12):
        for m in range(2, 10):
            v = m * 10.0 ** (-k - 1)
            if v >= ymin:
                minor_vals.append(v)
    layout_axes["xaxis" + sx] = dict(
        domain=[fx(x0), fx(x1)], anchor="y" + sx, range=[0, X_MAX[i]],
        tickmode="linear", tick0=0, dtick=X_TICK_STEP[i],
        showline=True, linecolor="black", linewidth=1, mirror="ticks",
        ticks="inside", ticklen=5, tickwidth=1, tickcolor="black",
        showgrid=False, zeroline=False, automargin=False,
        tickfont=dict(family=FONT, size=TICK_FONT_SIZE, color="black"),
        ticklabelstandoff=8,
    )
    layout_axes["yaxis" + sx] = dict(
        domain=[fy(bot), fy(top)], anchor="x" + sx, type="log",
        range=[math.log10(ymin), 0],
        tickmode="array", tickvals=Y_TICK_VALS[:nt], ticktext=Y_TICK_TEXT[:nt],
        showline=True, linecolor="black", linewidth=1,
        mirror=("ticks" if col == 0 else False),
        ticks="inside", ticklen=5, tickwidth=1, tickcolor="black",
        minor=dict(tickmode="array", tickvals=minor_vals, ticks="inside", ticklen=2.5,
                   tickwidth=1, tickcolor="black"),
        showgrid=False, zeroline=False, automargin=False,
        tickfont=dict(family=FONT, size=TICK_FONT_SIZE, color="black"),
        ticklabelstandoff=8, ticklabelshift=-5,
    )

    cx = COL_FULL_CENTER[col]
    annotations.append(dict(
        text=PANEL_TITLES[i], xref="paper", yref="paper",
        x=fx(cx), y=fy(top - 26), xanchor="center", yanchor="middle",
        showarrow=False, font=dict(family=FONT, size=22, color="black"),
    ))
    annotations.append(dict(
        text=X_TITLE, xref="paper", yref="paper",
        x=fx(cx - 2), y=fy(bot + 51), xanchor="center", yanchor="middle",
        showarrow=False, font=dict(family=FONT, size=19, color="black"),
    ))
    annotations.append(dict(
        text=Y_TITLE, xref="paper", yref="paper", textangle=-90,
        x=fx(YTITLE_X[col]), y=fy((top + bot) / 2), xanchor="center", yanchor="middle",
        showarrow=False, font=dict(family=FONT, size=19, color="black"),
    ))

# legend frames
shapes = [
    dict(type="rect", xref="paper", yref="paper", x0=fx(152.7), x1=fx(802.0),
         y0=fy(1402.7), y1=fy(1371.0), line=dict(color="black", width=1)),
    dict(type="rect", xref="paper", yref="paper", x0=fx(236.0), x1=fx(590.7),
         y0=fy(1437.0), y1=fy(1406.0), line=dict(color="black", width=1)),
]

legend_common = dict(orientation="h", xanchor="left", yanchor="top",
                     bgcolor="rgba(0,0,0,0)", borderwidth=0, itemwidth=63,
                     font=dict(family=FONT, size=18, color="black"))

fig.update_layout(
    width=W, height=H,
    margin=dict(l=0, r=0, t=0, b=0, pad=0, autoexpand=False),
    paper_bgcolor="white", plot_bgcolor="white",
    annotations=annotations, shapes=shapes,
    legend=dict(x=fx(155.0), y=fy(1368.5), **legend_common),
    legend2=dict(x=fx(236.7), y=fy(1403.0), **legend_common),
    **layout_axes,
)

fig.write_html(
    "out.html",
    config={"displayModeBar": False},
    post_script="document.body.style.margin='0px';document.body.style.overflow='hidden';",
)
